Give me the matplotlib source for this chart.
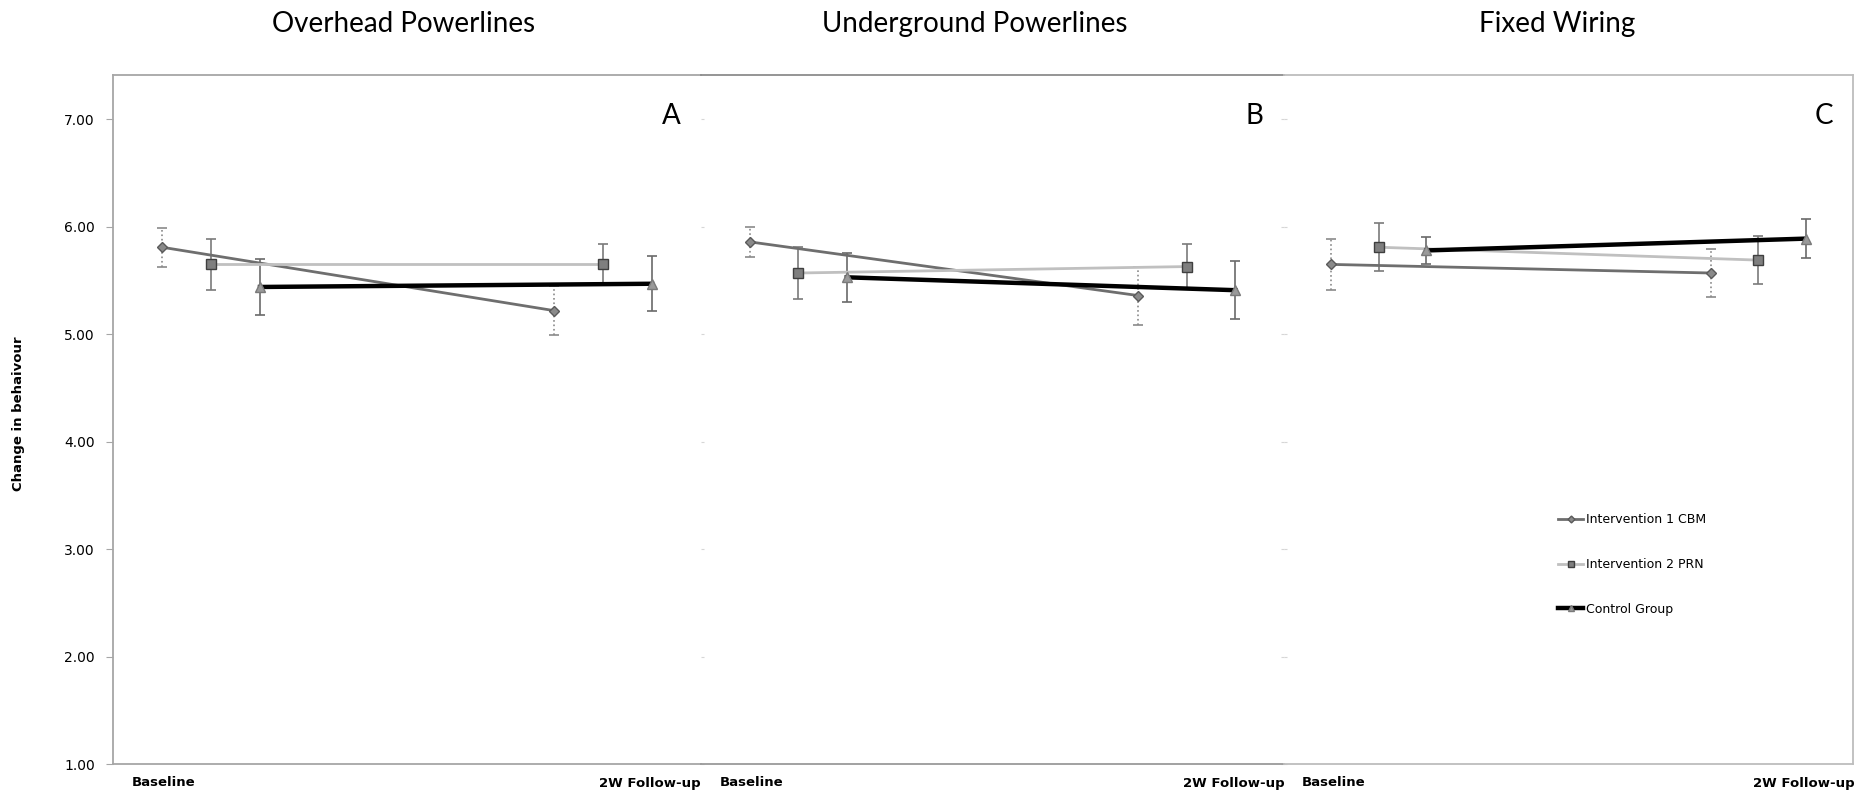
import numpy as np
import matplotlib
matplotlib.use("Agg")
import matplotlib.pyplot as plt
from matplotlib.lines import Line2D

# data
panels = ['Overhead Powerlines', 'Underground Powerlines', 'Fixed Wiring']
letters = ['A', 'B', 'C']
groups = ['Intervention 1 CBM', 'Intervention 2 PRN', 'Control Group']
times = ['Baseline', '2W Follow-up']

# means [baseline, follow-up] per panel
cbm_mean = [[5.81, 5.22], [5.86, 5.36], [5.65, 5.57]]
prn_mean = [[5.65, 5.65], [5.57, 5.63], [5.81, 5.69]]
ctl_mean = [[5.44, 5.47], [5.53, 5.41], [5.78, 5.89]]
# error bar half widths
cbm_err = [[0.18, 0.23], [0.14, 0.27], [0.24, 0.225]]
prn_err = [[0.235, 0.19], [0.245, 0.21], [0.225, 0.22]]
ctl_err = [[0.265, 0.255], [0.23, 0.27], [0.125, 0.18]]

narrow = ['Liberation Sans Narrow', 'DejaVu Sans']
thin = ['Lato', 'DejaVu Sans']

fig = plt.figure(figsize=(18.69, 7.94), dpi=100)
W, H = 1869, 794
bottom = 1 - 764 / H
height = (764 - 75) / H
edges = [113, 701, 1284, 1853]
title_x = [404, 975, 1557]

offs = [-0.125, 0.0, 0.125]
styles = [
    dict(color='#6e6e6e', lw=2.0, marker='D', ms=5.5, mfc='#8a8a8a', mec='#5a5a5a', ecolor='#8a8a8a', ls_err=':'),
    dict(color='#c0c0c0', lw=2.0, marker='s', ms=7, mfc='#7f7f7f', mec='#3f3f3f', ecolor='#7a7a7a', ls_err='-'),
    dict(color='#000000', lw=3.2, marker='^', ms=7, mfc='#9a9a9a', mec='#7a7a7a', ecolor='#6a6a6a', ls_err='-'),
]
means = [cbm_mean, prn_mean, ctl_mean]
errs = [cbm_err, prn_err, ctl_err]

axes = []
for p in range(3):
    left = edges[p] / W
    width = (edges[p + 1] - edges[p]) / W
    ax = fig.add_axes([left, bottom, width, height])
    axes.append(ax)
    ax.set_xlim(-0.25, 1.25)
    ax.set_ylim(1, 7.413)
    ax.patch.set_alpha(0)

    for g in range(3):
        st = styles[g]
        x = np.array([0, 1]) + offs[g]
        y = np.array(means[g][p])
        e = np.array(errs[g][p])
        eb = ax.errorbar(x, y, yerr=e, fmt='none', ecolor=st['ecolor'],
                         elinewidth=1.2, capsize=3.5, capthick=1.2, zorder=2)
        eb[2][0].set_linestyle(st['ls_err'])
        ax.plot(x, y, color=st['color'], lw=st['lw'], marker=st['marker'],
                ms=st['ms'], mfc=st['mfc'], mec=st['mec'], zorder=3 + g)

    ax.set_xticks([-0.12, 1.12])
    ax.set_xticklabels(times, family=narrow, fontweight='bold', fontsize=9.5)
    ax.tick_params(axis='x', length=0, pad=9)

    ax.text(0.965, 0.94, letters[p], transform=ax.transAxes, ha='right',
            va='center', fontsize=20, family=thin, color='black')
    fig.text(title_x[p] / W, 1 - 24 / H, panels[p], ha='center', va='center',
             fontsize=20, family=thin, color='black')

    ax.set_yticks([1, 2, 3, 4, 5, 6, 7])
    for s in ax.spines.values():
        s.set_linewidth(1.3)

# panel A
a = axes[0]
a.set_yticklabels(['%.2f' % v for v in range(1, 8)], family=narrow, fontsize=10)
a.tick_params(axis='y', length=5, color='#a6a6a6', pad=8)
a.spines['right'].set_visible(False)
for k in ['left', 'top', 'bottom']:
    a.spines[k].set_color('#a6a6a6')

# panel B
b = axes[1]
b.tick_params(axis='y', left=True, right=True, length=2, color='#d6d6d6',
              labelleft=False, direction='in')
b.spines['left'].set_visible(False)
b.spines['right'].set_visible(False)
b.spines['top'].set_color('#8c8c8c')
b.spines['bottom'].set_color('#9a9a9a')

# panel C
c = axes[2]
c.tick_params(axis='y', left=True, length=2, color='#d6d6d6',
              labelleft=False, direction='in')
c.spines['left'].set_visible(False)
for k in ['right', 'top', 'bottom']:
    c.spines[k].set_color('#bdbdbd')

fig.text(19 / W, 1 - 414 / H, 'Change in behaivour', rotation=90,
         ha='center', va='center', family=narrow, fontweight='bold', fontsize=9.5)

handles = [Line2D([], [], color=st['color'], lw=st['lw'], marker=st['marker'],
                  ms=st['ms'] - 2, mfc=st['mfc'], mec=st['mec']) for st in styles]
fig.legend(handles, groups, loc='upper left',
           bbox_to_anchor=(1558 / W, 1 - 513 / H), frameon=False,
           prop={'family': narrow, 'size': 9}, handlelength=2.0,
           handletextpad=0.2, labelspacing=2.55, borderpad=0, borderaxespad=0)

fig.savefig('out.png', dpi=100)
